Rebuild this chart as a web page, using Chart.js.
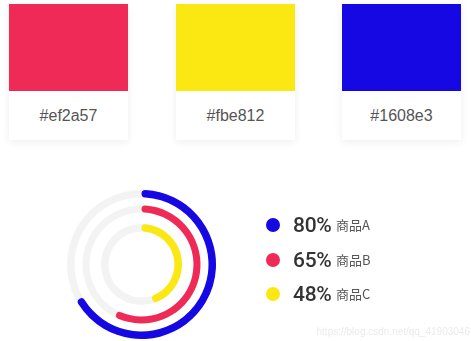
<!DOCTYPE html>
<html>
<head>
<meta charset="utf-8">
<script src="https://cdn.jsdelivr.net/npm/chart.js@4.4.1/dist/chart.umd.min.js"></script>
<style>
  html, body { margin: 0; padding: 0; background: #fff; }
  body { width: 471px; height: 341px; position: relative; overflow: hidden; font-family: "Liberation Sans", Arial, sans-serif; }
  .card { position: absolute; top: 4px; width: 119px; height: 136px; background: #fff; box-shadow: 0 2px 8px rgba(0,0,0,0.07); }
  .card .swatch { height: 87px; }
  .card .code { height: 49px; line-height: 49px; text-align: center; font-size: 16px; color: #555; }
  .ring { position: absolute; left: 67px; top: 190px; width: 149px; height: 149px; }
  .legend { position: absolute; left: 266px; top: 0; }
  .item { position: absolute; left: 0; white-space: nowrap; height: 20px; }
  .dot { position: absolute; left: 0; top: 3px; width: 14px; height: 14px; border-radius: 50%; }
  .pct { position: absolute; left: 27px; top: -2px; font-family: Roboto, sans-serif; font-weight: 500; font-size: 21px; letter-spacing: -0.3px; color: #333; }
  .name { position: absolute; left: 70px; top: 0; font-family: "Noto Sans CJK SC", sans-serif; font-size: 13px; color: #555; }
  .mark { position: absolute; right: 1px; top: 326px; font-size: 10px; color: #ebebeb; }
</style>
</head>
<body>
<div id="cards"></div>
<div class="ring"><canvas id="trackChart"></canvas></div>
<div class="ring"><canvas id="ringChart"></canvas></div>
<div class="legend" id="legend"></div>
<div class="mark">https://blog.csdn.net/qq_41903046</div>
<script>
// palette cards
const swatchColors = ['#ef2a57', '#fbe812', '#1608e3'];
const swatchLeft = [9, 176, 342];

// rings, outer to inner
const products = ['商品A', '商品B', '商品C'];
const percents = [80, 65, 48];
const ringColors = ['#1608e3', '#ef2a57', '#fbe812'];
// how far each arc sweeps round the circle, in degrees
const arcSweep = [241, 207, 163];
const legendTop = [215, 250, 284];

// cards
swatchColors.forEach(function (c, i) {
    const card = document.createElement('div');
    card.className = 'card';
    card.style.left = swatchLeft[i] + 'px';
    card.innerHTML = '<div class="swatch" style="background:' + c + '"></div><div class="code">' + c + '</div>';
    document.getElementById('cards').appendChild(card);
});

// legend
products.forEach(function (p, i) {
    const item = document.createElement('div');
    item.className = 'item';
    item.style.top = legendTop[i] + 'px';
    item.innerHTML = '<span class="dot" style="background:' + ringColors[i] + '"></span>' +
        '<span class="pct">' + percents[i] + '%</span><span class="name">' + p + '</span>';
    document.getElementById('legend').appendChild(item);
});

// ring thickness / gaps, outer to inner (px)
const ringWeights = [7.5, 7, 7.5];
const gapWeights = [8, 11.5];

function buildDatasets(forTrack) {
    const sets = [];
    arcSweep.forEach(function (sweep, i) {
        if (forTrack) {
            sets.push({ data: [1], backgroundColor: ['#f3f3f3'], weight: ringWeights[i] });
        } else {
            sets.push({
                data: [sweep, 360 - sweep],
                backgroundColor: [ringColors[i], 'rgba(0,0,0,0)'],
                borderRadius: [10, 0],
                weight: ringWeights[i]
            });
        }
        if (i < gapWeights.length) {
            sets.push({ data: [1], backgroundColor: ['rgba(0,0,0,0)'], weight: gapWeights[i] });
        }
    });
    return sets;
}

const ringOptions = {
    responsive: true,
    maintainAspectRatio: false,
    animation: false,
    events: [],
    cutout: 33,
    layout: { padding: 0 },
    elements: { arc: { borderWidth: 0, hoverOffset: 0, offset: 0 } },
    plugins: { legend: { display: false }, tooltip: { enabled: false } }
};

new Chart(document.getElementById('trackChart'), {
    type: 'doughnut',
    data: { datasets: buildDatasets(true) },
    options: ringOptions
});

new Chart(document.getElementById('ringChart'), {
    type: 'doughnut',
    data: { datasets: buildDatasets(false) },
    options: ringOptions
});
</script>
</body>
</html>
